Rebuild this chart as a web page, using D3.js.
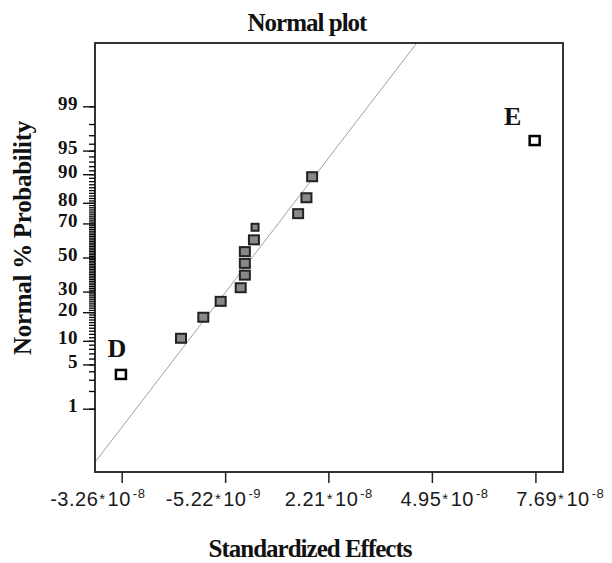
<!DOCTYPE html>
<html>
<head>
<meta charset="utf-8">
<script src="https://cdn.jsdelivr.net/npm/d3@7"></script>
<style>
  body { margin: 0; background: #fff; }
  svg { display: block; }
</style>
</head>
<body>
<svg></svg>
<script>
const svgWidth = 612
const svgHeight = 563
const frame = { left: 95, right: 563, top: 43, bottom: 472 }

// effects in units of 1e-8, sorted, with their normal % probability
const effects = [-3.28, -1.69, -1.10, -0.64, -0.11, 0.00, 0.00, 0.00, 0.24, 0.27, 1.41, 1.63, 1.78, 7.67]
const probs = [3.6, 10.7, 17.9, 25.0, 32.1, 39.3, 46.4, 53.6, 60.7, 67.9, 75.0, 82.1, 89.3, 96.4]
const pointNames = ["D", "", "", "", "", "", "", "", "", "", "", "", "", "E"]
const smallPoints = [9]

const xTickValues = [-3.26, -0.522, 2.21, 4.95, 7.69]
const xTickMantissa = ["-3.26", "-5.22", "2.21", "4.95", "7.69"]
const xTickExponent = ["-8", "-9", "-8", "-8", "-8"]
const yMajorTicks = [1, 5, 10, 20, 30, 50, 70, 80, 90, 95, 99]
const yMinorTicks = d3.range(1, 100)

// reference line z = intercept + slope * effect
const lineIntercept = -0.146
const lineSlope = 0.7574

// inverse normal cdf (Acklam)
function probit(p) {
  const a = [-3.969683028665376e+01, 2.209460984245205e+02, -2.759285104469687e+02, 1.383577518672690e+02, -3.066479806614716e+01, 2.506628277459239e+00]
  const b = [-5.447609879822406e+01, 1.615858368580409e+02, -1.556989798598866e+02, 6.680131188771972e+01, -1.328068155288572e+01]
  const c = [-7.784894002430293e-03, -3.223964580411365e-01, -2.400758277161838e+00, -2.549732539343734e+00, 4.374664141464968e+00, 2.938163982698783e+00]
  const d = [7.784695709041462e-03, 3.224671290700398e-01, 2.445134137142996e+00, 3.754408661907416e+00]
  const pl = 0.02425
  let q, r
  if (p < pl) {
    q = Math.sqrt(-2 * Math.log(p))
    return (((((c[0]*q+c[1])*q+c[2])*q+c[3])*q+c[4])*q+c[5]) / ((((d[0]*q+d[1])*q+d[2])*q+d[3])*q+1)
  } else if (p <= 1 - pl) {
    q = p - 0.5
    r = q * q
    return (((((a[0]*r+a[1])*r+a[2])*r+a[3])*r+a[4])*r+a[5])*q / (((((b[0]*r+b[1])*r+b[2])*r+b[3])*r+b[4])*r+1)
  } else {
    q = Math.sqrt(-2 * Math.log(1 - p))
    return -(((((c[0]*q+c[1])*q+c[2])*q+c[3])*q+c[4])*q+c[5]) / ((((d[0]*q+d[1])*q+d[2])*q+d[3])*q+1)
  }
}

const svg = d3.select("svg")
  .attr("width", svgWidth)
  .attr("height", svgHeight)

const xScale = d3.scaleLinear()
  .domain([-3.966, 8.42])
  .range([frame.left, frame.right])
// the tick labels in the original sit a little wider apart than the ticks
const xLabelScale = d3.scaleLinear()
  .domain([-3.966, 8.42])
  .range([frame.left - 30 + 3, frame.right + 25 + 3])
const zScale = d3.scaleLinear()
  .domain([-3.3, 3.3])
  .range([frame.bottom, frame.top])
const yOf = (p) => zScale(probit(p / 100))

svg.append("defs").append("clipPath")
  .attr("id", "plot-clip")
  .append("rect")
  .attr("x", frame.left)
  .attr("y", frame.top)
  .attr("width", frame.right - frame.left)
  .attr("height", frame.bottom - frame.top)

// reference line
const xd = xScale.domain()
svg.append("line")
  .attr("clip-path", "url(#plot-clip)")
  .attr("x1", xScale(xd[0]))
  .attr("y1", zScale(lineIntercept + lineSlope * xd[0]))
  .attr("x2", xScale(xd[1]))
  .attr("y2", zScale(lineIntercept + lineSlope * xd[1]))
  .attr("stroke", "#a0a0a0")
  .attr("stroke-width", 1)

// frame
svg.append("rect")
  .attr("x", frame.left)
  .attr("y", frame.top)
  .attr("width", frame.right - frame.left)
  .attr("height", frame.bottom - frame.top)
  .attr("fill", "none")
  .attr("stroke", "#333")
  .attr("stroke-width", 2)

// y axis: minor then major ticks
const yMinorAxis = svg.append("g")
  .attr("transform", `translate(${frame.left},0)`)
  .call(d3.axisLeft(zScale)
    .tickValues(yMinorTicks.map((p) => probit(p / 100)))
    .tickSize(6)
    .tickFormat(""))
yMinorAxis.select(".domain").remove()
yMinorAxis.selectAll("line").attr("stroke", "#000").attr("stroke-width", 1.3)

const yMajorAxis = svg.append("g")
  .attr("transform", `translate(${frame.left},0)`)
  .call(d3.axisLeft(zScale)
    .tickValues(yMajorTicks.map((p) => probit(p / 100)))
    .tickSize(12)
    .tickPadding(5)
    .tickFormat((z, i) => yMajorTicks[i]))
yMajorAxis.select(".domain").remove()
yMajorAxis.selectAll("line").attr("stroke", "#111").attr("stroke-width", 1.4)
yMajorAxis.selectAll("text")
  .attr("dy", "0.15em")
  .attr("font-family", "Liberation Serif, serif")
  .attr("font-weight", "bold")
  .attr("font-size", 19)
  .attr("letter-spacing", 0.5)
  .attr("fill", "#111")

// x axis
const xAxis = svg.append("g")
  .attr("transform", `translate(0,${frame.bottom})`)
  .call(d3.axisBottom(xScale)
    .tickValues(xTickValues)
    .tickSize(11)
    .tickFormat(""))
xAxis.select(".domain").remove()
xAxis.selectAll("line").attr("stroke", "#222").attr("stroke-width", 1.5)

const xLabels = xAxis.selectAll(".x-label")
  .data(xTickValues)
  .enter()
  .append("text")
  .attr("class", "x-label")
  .attr("x", (d) => xLabelScale(d))
  .attr("y", 34)
  .attr("text-anchor", "middle")
  .attr("font-family", "Liberation Sans, Arial, sans-serif")
  .attr("font-size", 20)
  .attr("letter-spacing", 0.5)
  .attr("fill", "#1a1a1a")
xLabels.append("tspan").text((d, i) => xTickMantissa[i])
xLabels.append("tspan").attr("font-size", 15).attr("dx", 1).attr("dy", -2).text("*")
xLabels.append("tspan").attr("dx", 2).attr("dy", 2).text("10")
xLabels.append("tspan").attr("font-size", 13).attr("dx", 2).attr("dy", -8).text((d, i) => xTickExponent[i])

// points
const pts = effects.map((e, i) => ({ e: e, p: probs[i], name: pointNames[i], i: i }))
svg.append("g")
  .selectAll("rect")
  .data(pts)
  .enter()
  .append("rect")
  .attr("x", (d) => xScale(d.e) - (smallPoints.includes(d.i) ? 3.5 : 5))
  .attr("y", (d) => yOf(d.p) - (smallPoints.includes(d.i) ? 3.5 : 4.5))
  .attr("width", (d) => smallPoints.includes(d.i) ? 7 : 10)
  .attr("height", (d) => smallPoints.includes(d.i) ? 7 : 9)
  .attr("fill", (d) => d.name ? "#fff" : "#888")
  .attr("stroke", (d) => d.name ? "#000" : "#222")
  .attr("stroke-width", (d) => d.name ? 2.5 : 2)

svg.append("g")
  .selectAll("text")
  .data(pts.filter((d) => d.name))
  .enter()
  .append("text")
  .attr("x", (d) => xScale(d.e) - (d.name === "E" ? 22 : 4))
  .attr("y", (d) => yOf(d.p) - (d.name === "E" ? 16 : 17))
  .attr("text-anchor", "middle")
  .attr("font-family", "Liberation Serif, serif")
  .attr("font-weight", "bold")
  .attr("font-size", 26)
  .attr("fill", "#111")
  .text((d) => d.name)

// titles
svg.append("text")
  .text("Normal plot")
  .attr("x", 307)
  .attr("y", 31)
  .attr("text-anchor", "middle")
  .attr("font-family", "Liberation Serif, serif")
  .attr("font-weight", "bold")
  .attr("font-size", 25)
  .attr("letter-spacing", -1)
  .attr("fill", "#111")

svg.append("text")
  .text("Standardized Effects")
  .attr("x", 310)
  .attr("y", 557)
  .attr("text-anchor", "middle")
  .attr("font-family", "Liberation Serif, serif")
  .attr("font-weight", "bold")
  .attr("font-size", 25)
  .attr("letter-spacing", -1)
  .attr("fill", "#111")

svg.append("text")
  .text("Normal % Probability")
  .attr("transform", "translate(31,238) rotate(-90)")
  .attr("text-anchor", "middle")
  .attr("font-family", "Liberation Serif, serif")
  .attr("font-weight", "bold")
  .attr("font-size", 25)
  .attr("letter-spacing", -0.3)
  .attr("fill", "#111")
</script>
</body>
</html>
